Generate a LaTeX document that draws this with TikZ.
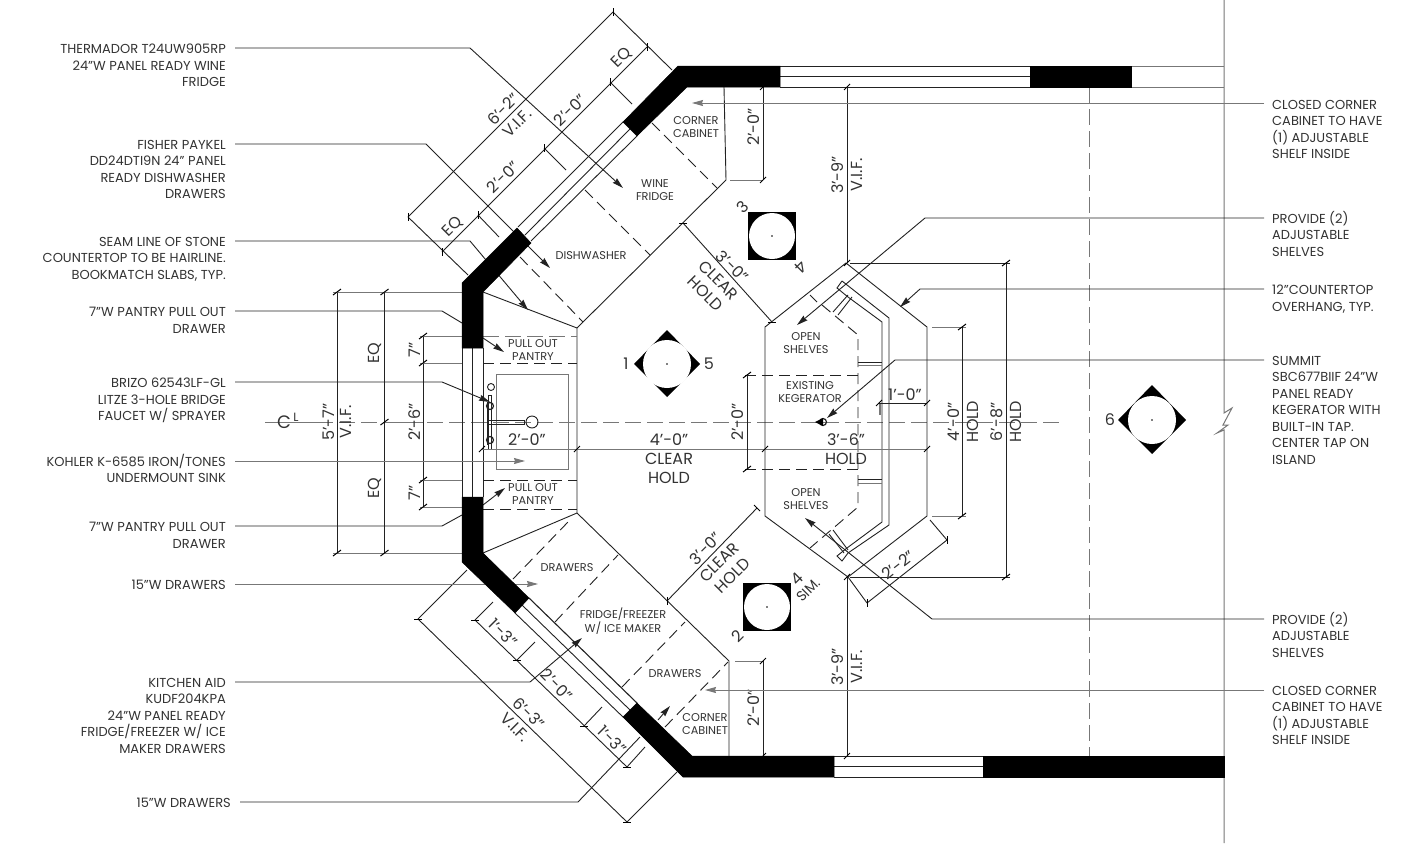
\documentclass[tikz,border=0pt]{standalone}
\usepackage{fontspec}
\setmainfont{Poppins}
\usepackage{xcolor}
\usetikzlibrary{positioning,calc,arrows.meta}
\definecolor{lineDark}{HTML}{222222}
\definecolor{lineGrey}{HTML}{777777}
\definecolor{textDark}{HTML}{333333}
\tikzstyle{wall}     =[fill=black,draw=black,line width=0.5pt]
\tikzstyle{thin}     =[draw=lineDark,line width=0.9pt]
\tikzstyle{soft}     =[draw=lineGrey,line width=1pt]
\tikzstyle{hidden}   =[draw=lineDark,line width=0.9pt,dash pattern=on 11pt off 6pt]
\tikzstyle{softdash} =[draw=lineGrey,line width=1pt,dash pattern=on 16pt off 6pt]
\tikzstyle{leader}   =[draw=lineDark,line width=0.9pt,-{Stealth[length=11pt,width=6pt,inset=1pt]}]
\tikzstyle{plainlead}=[draw=lineDark,line width=0.9pt]
\tikzstyle{dimtick}  =[draw=black,line width=1pt]
\tikzstyle{noteL}    =[anchor=north east,align=right,inner sep=0pt,text=textDark,font=\fontsize{13}{16.5}\selectfont]
\tikzstyle{noteR}    =[anchor=north west,align=left,inner sep=0pt,text=textDark,font=\fontsize{13}{16.5}\selectfont]
\tikzstyle{room}     =[align=center,inner sep=0pt,text=textDark,font=\fontsize{11.3}{13.5}\selectfont]
\tikzstyle{dimtext}  =[align=center,inner sep=0pt,text=textDark,font=\fontsize{16}{19}\selectfont]
\tikzstyle{keynum}   =[inner sep=0pt,text=textDark,font=\fontsize{16}{18}\selectfont]
\newcommand{\dimticks}[3]{\foreach \x/\y in {#3} {\draw[dimtick] (\x-#1,\y-#2) -- (\x+#1,\y+#2);}}
\begin{document}
\begin{tikzpicture}[x=1pt,y=-1pt]
      \fill[white] (0,0) rectangle (1409,857);
      \useasboundingbox (0,0) rectangle (1409,857);
      % center lines and end of room
      \draw[softdash] (317,422) -- (1060,422);
      \draw[soft] (265,422) -- (317,422);
      \draw[softdash] (1089,87) -- (1089,756);
      \draw[soft] (1224,0) -- (1224,413) -- (1232,408) -- (1223,425) -- (1228,425) -- (1217,433) -- (1224,430) -- (1224,843);
      \node[keynum,font=\fontsize{18}{20}\selectfont] (clC) at (284,422) {C};
      \node[keynum,font=\fontsize{12}{14}\selectfont] (clL) at (296,417) {L};
      % window lines
      \foreach \y in {66,76,87} {\draw[thin] (780,\y) -- (1030,\y);}
      \foreach \y in {66,87} {\draw[soft] (1131,\y) -- (1224,\y);}
      \foreach \y in {756,766,777} {\draw[thin] (834,\y) -- (983,\y);}
      \draw[thin] (518,227) -- (623,122);
      \draw[thin] (525,235) -- (630,129);
      \draw[thin] (531,241) -- (637,136);
      \draw[thin] (515,613) -- (623,717);
      \draw[thin] (522,605) -- (630,710);
      \draw[thin,line width=1.1pt] (529,598) -- (637,703);
      \foreach \x in {462,472.5,483} {\draw[thin] (\x,348) -- (\x,497);}
      % cabinets
      \draw[thin] (724,87) -- (726,180) -- (577,328) -- (577,513) -- (729,661) -- (729,756);
      \draw[thin] (483,292) -- (577,328);
      \draw[thin] (483,553) -- (577,513);
      \draw[hidden] (652,123) -- (717,188);
      \draw[hidden] (585,190) -- (650,255);
      \draw[hidden] (520,257) -- (583,322);
      \draw[hidden] (513,579) -- (568,522);
      \draw[hidden] (555,622) -- (618,555);
      \draw[hidden] (622,687) -- (685,622);
      \draw[hidden] (665,727) -- (728,662);
      \draw[softdash] (483,336) -- (577,336);
      \draw[hidden] (483,363) -- (577,363);
      \draw[hidden] (483,480) -- (577,480);
      \draw[hidden] (483,509) -- (577,509);
      % sink and faucet
      \draw[thin,draw=lineGrey] (496,374) rectangle (568,469);
      \draw[thin] (488,395) rectangle (491,449);
      \draw[thin] (487,402) -- (487,445);
      \draw[thin] (491,387) circle (3.5pt);
      \draw[thin,line width=1.2pt] (490,406) circle (3.5pt);
      \draw[thin,line width=1.2pt] (490,440) circle (3.5pt);
      \draw[thin] (488,420.5) rectangle (524,424);
      \draw[thin] (532,422) circle (6pt);
      % island
      \draw[thin] (846,263) -- (765,327) -- (765,516) -- (848,577) -- (927,516) -- (927,327) -- cycle;
      \draw[thin] (842,281) -- (889,318) -- (889,525) -- (848,553) -- (842,561) -- (837,556) -- (847,548);
      \draw[thin] (847,548) -- (882,522) -- (882,322) -- (848,297) -- (837,288) -- (842,281);
      \draw[hidden] (822,305) -- (858,335) -- (858,507) -- (810,548);
      \draw[hidden] (745,375) -- (858,375);
      \draw[hidden] (745,469) -- (858,469);
      \draw[thin] (858,362) -- (882,362);
      \draw[soft] (858,365) -- (882,365);
      \draw[thin] (858,479) -- (882,479);
      \draw[soft] (858,483) -- (882,483);
      \draw[thin] (833,312) -- (848,295);
      \draw[thin] (838,315) -- (852,297);
      \draw[thin] (833,530) -- (848,550);
      \draw[thin] (829,534) -- (844,553);
      \draw[thin] (810,295) -- (817,302);
      \draw[line width=1.2pt,draw=lineGrey] (880,404) -- (880,415);
      \draw[thin,line width=1.2pt] (823,422) circle (3.5pt);
      \fill[black] (815,422) -- (823,418) -- (823,426) -- cycle;
      % dimension lines
      \draw[thin] (408,217) -- (613,12);
      \draw[thin] (442,252) -- (647,47);
      \draw[thin] (613,12) -- (672,70);
      \draw[thin] (408,217) -- (468,275);
      \draw[thin] (478,215) -- (499,237);
      \draw[thin] (544,148) -- (566,170);
      \draw[thin] (610,82) -- (632,104);
      \dimticks{0}{4}{408/217,613/12,442/252,478/215,544/148,610/82,647/47}
      \draw[thin] (418,619) -- (627,822);
      \draw[thin] (475,620) -- (627,767);
      \draw[thin] (418,619) -- (467,570);
      \draw[thin] (627,822) -- (677,772);
      \draw[thin] (475,620) -- (493,602);
      \draw[thin] (517,660) -- (535,642);
      \draw[thin] (584,726) -- (602,707);
      \draw[thin] (627,767) -- (645,747);
      \dimticks{4}{0}{418/619,475/620,517/660,584/726,627/767,627/822}
      \draw[thin] (337,292) -- (337,553);
      \draw[thin] (384.5,292) -- (384.5,553);
      \draw[soft] (333,292) -- (462,292);
      \draw[soft] (333,553) -- (462,553);
      \draw[soft] (384.5,422) -- (423,422);
      \draw[thin] (423,336) -- (423,507);
      \draw[soft] (420,336) -- (462,336);
      \draw[soft] (420,363) -- (462,363);
      \draw[soft] (420,480) -- (462,480);
      \draw[soft] (420,507) -- (462,507);
      \dimticks{4}{-3}{337/292,337/553,384.5/292,384.5/422,384.5/553,423/336,423/363,423/480,423/507}
      \draw[soft] (482,449) -- (927,449);
      \dimticks{3}{-3}{482/449,577/449,765/449,927/449}
      \draw[thin] (683,223) -- (772,322);
      \draw[thin] (667,601) -- (757,508);
      \dimticks{4}{0}{683/223,772/322}
      \dimticks{0}{4}{667/601}
      \dimticks{3}{3}{757/508}
      \draw[thin] (763,87) -- (763,180);
      \draw[soft] (730,180) -- (763,180);
      \draw[thin] (763,661) -- (763,756);
      \draw[soft] (735,661) -- (763,661);
      \dimticks{3}{-3}{763/87,763/180,763/661,763/756}
      \draw[thin] (847,87) -- (847,263);
      \draw[thin] (847,577) -- (847,756);
      \dimticks{3}{-3}{847/87,847/263,847/577,847/756}
      \draw[thin] (879,403) -- (927,403);
      \dimticks{3}{-3}{879/403,927/403}
      \draw[thin] (747,375) -- (747,469);
      \dimticks{4}{-3}{747/375,747/469}
      \draw[soft] (932,327) -- (966,327);
      \draw[soft] (932,516) -- (966,516);
      \draw[thin] (962,327) -- (962,516);
      \dimticks{4}{-3}{962/327,962/516}
      \draw[thin] (850,263) -- (1010,263);
      \draw[thin] (850,577) -- (1010,577);
      \draw[thin] (1006,263) -- (1006,577);
      \dimticks{4}{-3}{1006/263,1006/577}
      \draw[thin] (867,603) -- (947,540);
      \draw[thin] (848,577) -- (867,603);
      \draw[thin] (930,520) -- (947,540);
      \dimticks{0}{4}{867/603,947/540}
      % dimension texts
      \node[dimtext,rotate=45] (dimEqA) at (622,58) {EQ};
      \node[dimtext,rotate=45] (dimEqB) at (453,227) {EQ};
      \node[dimtext,rotate=45] (dimTwoA) at (570,110) {2'-0"};
      \node[dimtext,rotate=45] (dimTwoB) at (503,177) {2'-0"};
      \node[dimtext,rotate=45] (dimSixA) at (510,116) {6'-2"\\V.I.F.};
      \node[dimtext,rotate=-45] (dimOneA) at (503,633) {1'-3"};
      \node[dimtext,rotate=-45] (dimTwoC) at (557,685) {2'-0"};
      \node[dimtext,rotate=-45] (dimOneB) at (612,740) {1'-3"};
      \node[dimtext,rotate=-45] (dimSixB) at (522,720) {6'-3"\\V.I.F.};
      \node[dimtext,rotate=90] (dimFive) at (329,422) {5'-7"};
      \node[dimtext,rotate=90] (dimFiveB) at (346,422) {V.I.F.};
      \node[dimtext,rotate=90] (dimEqC) at (375,353) {EQ};
      \node[dimtext,rotate=90] (dimEqD) at (375,488) {EQ};
      \node[dimtext,rotate=90] (dimSevA) at (415,350) {7"};
      \node[dimtext,rotate=90] (dimSevB) at (415,493) {7"};
      \node[dimtext,rotate=90] (dimTwoSix) at (415,422) {2'-6"};
      \node[dimtext] (dimSink) at (527,440) {2'-0"};
      \node[dimtext] (dimClear) at (669,459) {4'-0"\\CLEAR\\HOLD};
      \node[dimtext] (dimHold) at (846,449) {3'-6"\\HOLD};
      \node[dimtext,rotate=-45] (dimClrA) at (719,280) {3'-0"\\CLEAR\\HOLD};
      \node[dimtext,rotate=45] (dimClrB) at (719,562) {3'-0"\\CLEAR\\HOLD};
      \node[dimtext,rotate=90] (dimTwoD) at (754,127) {2'-0"};
      \node[dimtext,rotate=90] (dimTwoE) at (754,708) {2'-0"};
      \node[dimtext,rotate=90] (dimNineA) at (847,175) {3'-9"\\V.I.F.};
      \node[dimtext,rotate=90] (dimNineB) at (847,667) {3'-9"\\V.I.F.};
      \node[dimtext,rotate=90] (dimTwoF) at (738,422) {2'-0"};
      \node[dimtext] (dimOneC) at (905,395) {1'-0"};
      \node[dimtext,rotate=90] (dimFour) at (963,422) {4'-0"\\HOLD};
      \node[dimtext,rotate=90] (dimEight) at (1006,422) {6'-8"\\HOLD};
      \node[dimtext,rotate=38] (dimTwoG) at (898,565) {2'-2"};
      % room texts
      \node[room] (cornerA) at (696,127) {CORNER\\CABINET};
      \node[room] (wine) at (655,190) {WINE\\FRIDGE};
      \node[room] (dishwasher) at (591,256) {DISHWASHER};
      \node[room] (pantryA) at (533,350) {PULL OUT\\PANTRY};
      \node[room] (pantryB) at (533,494) {PULL OUT\\PANTRY};
      \node[room] (shelvesA) at (806,343) {OPEN\\SHELVES};
      \node[room] (kegerator) at (810,392) {EXISTING\\KEGERATOR};
      \node[room] (shelvesB) at (806,499) {OPEN\\SHELVES};
      \node[room] (drawersA) at (567,568) {DRAWERS};
      \node[room] (fridge) at (623,621) {FRIDGE/FREEZER\\W/ ICE MAKER};
      \node[room] (drawersB) at (675,674) {DRAWERS};
      \node[room] (cornerB) at (705,724) {CORNER\\CABINET};
      % notes left
      \node[noteL] (noteWine) at (226,44) {THERMADOR T24UW905RP\\24"W PANEL READY WINE\\FRIDGE};
      \node[noteL] (noteDish) at (226,140) {FISHER PAYKEL\\DD24DTI9N  24" PANEL\\READY DISHWASHER\\DRAWERS};
      \node[noteL] (noteSeam) at (226,237) {SEAM LINE OF STONE\\COUNTERTOP TO BE HAIRLINE.\\BOOKMATCH SLABS, TYP.};
      \node[noteL] (notePanA) at (226,307) {7"W PANTRY PULL OUT\\DRAWER};
      \node[noteL] (noteBrizo) at (226,378) {BRIZO 62543LF-GL\\LITZE 3-HOLE BRIDGE\\FAUCET W/ SPRAYER};
      \node[noteL] (noteSink) at (226,454) {KOHLER K-6585 IRON/TONES\\UNDERMOUNT SINK};
      \node[noteL] (notePanB) at (226,522) {7"W PANTRY PULL OUT\\DRAWER};
      \node[noteL] (noteDrwA) at (226,580) {15"W DRAWERS};
      \node[noteL] (noteAid) at (226,678) {KITCHEN AID\\KUDF204KPA\\24"W PANEL READY\\FRIDGE/FREEZER W/ ICE\\MAKER DRAWERS};
      \node[noteL] (noteDrwB) at (231,798) {15"W DRAWERS};
      % notes right
      \node[noteR] (noteCorA) at (1272,100) {CLOSED CORNER\\CABINET TO HAVE\\(1) ADJUSTABLE\\SHELF INSIDE};
      \node[noteR] (noteAdjA) at (1272,211) {PROVIDE (2)\\ADJUSTABLE\\SHELVES};
      \node[noteR] (noteOver) at (1272,285) {12"COUNTERTOP\\OVERHANG, TYP.};
      \node[noteR] (noteKeg) at (1272,356) {SUMMIT\\SBC677BIIF 24"W\\PANEL READY\\KEGERATOR WITH\\BUILT-IN TAP.\\CENTER TAP ON\\ISLAND};
      \node[noteR] (noteAdjB) at (1272,612) {PROVIDE (2)\\ADJUSTABLE\\SHELVES};
      \node[noteR] (noteCorB) at (1272,686) {CLOSED CORNER\\CABINET TO HAVE\\(1) ADJUSTABLE\\SHELF INSIDE};
      % leaders
      \draw[leader] (noteWine.north east) ++(9,4) -- (470,48) -- (623,188);
      \draw[leader] (noteDish.north east) ++(9,4) -- (426,144) -- (550,268);
      \draw[leader] (noteSeam.north east) ++(9,4) -- (470,241) -- (528,310);
      \draw[plainlead] (notePanA.north east) ++(9,4) -- (442,311) -- (462,323);
      \draw[leader] (483,338) -- (504,352);
      \draw[leader] (noteBrizo.north east) ++(9,4) -- (442,382) -- (490,402);
      \draw[leader,draw=lineGrey] (noteSink.north east) ++(9,7) -- (525,461);
      \draw[plainlead] (notePanB.north east) ++(9,4) -- (442,526) -- (462,515);
      \draw[leader] (483,505) -- (505,488);
      \draw[leader,draw=lineGrey] (noteDrwA.north east) ++(9,4) -- (538,584);
      \draw[leader] (noteAid.north east) ++(9,4) -- (530,682) -- (582,638);
      \draw[plainlead] (noteDrwB.north east) ++(9,4) -- (578,802) -- (640,737);
      \draw[leader] (658,720) -- (670,706);
      \draw[leader,draw=lineGrey] (noteCorA.north west) ++(-8,3) -- (692,103);
      \draw[leader] (noteAdjA.north west) ++(-8,7) -- (925,218) -- (797,325);
      \draw[leader] (noteOver.north west) ++(-8,4) -- (920,289) -- (900,307);
      \draw[leader] (noteKeg.north west) ++(-8,4) -- (895,360) -- (827,418);
      \draw[leader] (noteAdjB.north west) ++(-8,7) -- (932,619) -- (805,518);
      \draw[leader,draw=lineGrey] (noteCorB.north west) ++(-8,4) -- (705,690);
      % walls
      \fill[wall] (678,66) -- (780,66) -- (780,87) -- (687,87) -- (637,136) -- (623,122) -- cycle;
      \fill[wall] (1030,66) rectangle (1131,87);
      \fill[wall] (517,228) -- (531,243) -- (483,292) -- (483,348) -- (462,348) -- (462,283) -- cycle;
      \fill[wall] (462,497) -- (483,497) -- (483,553) -- (529,598) -- (515,613) -- (462,562) -- cycle;
      \fill[wall] (623,717) -- (637,703) -- (692,756) -- (834,756) -- (834,777) -- (683,777) -- cycle;
      \fill[wall] (983,756) rectangle (1224,777);
      % keys
      \fill[black] (748,212) rectangle (796,260);
      \fill[white] (772,236) circle (23pt);
      \fill[black] (772,236) circle (0.8pt);
      \fill[black] (743,583) rectangle (791,631);
      \fill[white] (767,607) circle (23pt);
      \fill[black] (767,607) circle (0.8pt);
      \fill[black] (667,330) -- (700,364) -- (667,397) -- (634,364) -- cycle;
      \fill[white] (667,364) circle (24pt);
      \fill[black] (667,364) circle (0.8pt);
      \fill[black] (1152,385) -- (1186,420) -- (1152,454) -- (1118,420) -- cycle;
      \fill[white] (1152,420) circle (24pt);
      \fill[black] (1152,420) circle (0.8pt);
      \node[keynum,rotate=45] (keyThree) at (743,207) {3};
      \node[keynum,rotate=-135] (keyFourA) at (801,267) {4};
      \node[keynum] (keyOne) at (626,364) {1};
      \node[keynum] (keyFive) at (709,364) {5};
      \node[keynum,rotate=45] (keyFourB) at (797,579) {4};
      \node[keynum,rotate=45,font=\fontsize{14}{16}\selectfont] (keySim) at (808,590) {SIM.};
      \node[keynum,rotate=45] (keyTwo) at (738,636) {2};
      \node[keynum] (keySix) at (1110,420) {6};
    \end{tikzpicture}
\end{document}
